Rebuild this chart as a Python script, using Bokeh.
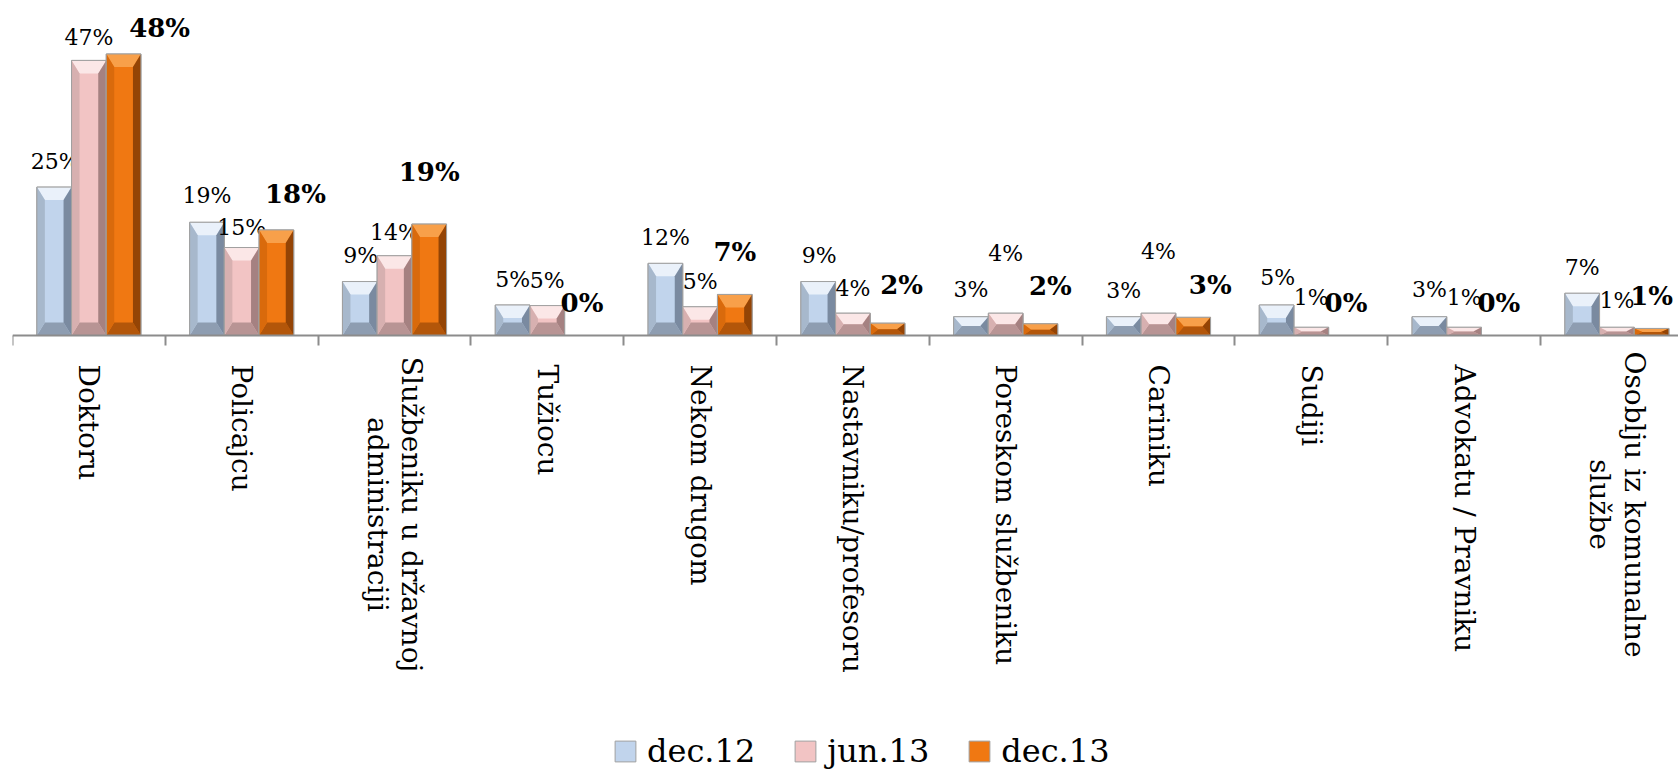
import math
from bokeh.plotting import figure
from bokeh.models import (Range1d, LinearAxis, FixedTicker, ColumnDataSource,
                          Legend, LegendItem)
from bokeh.core.properties import value
from bokeh.embed import file_html
from bokeh.resources import INLINE

# ---------------- data ----------------
categories = ["Doktoru", "Policajcu", "Službeniku u državnoj\nadministraciji", "Tužiocu",
              "Nekom drugom", "Nastavniku/profesoru", "Poreskom službeniku", "Cariniku",
              "Sudiji", "Advokatu / Pravniku", "Osoblju iz komunalne\nslužbe"]
series_names = ["dec.12", "jun.13", "dec.13"]
dec12 = [25.3, 19.3, 9.2, 5.2, 12.3, 9.2, 3.2, 3.2, 5.2, 3.2, 7.2]
jun13 = [46.9, 15.0, 13.6, 5.1, 4.9, 3.8, 3.8, 3.8, 1.4, 1.4, 1.4]
dec13 = [48.0, 18.0, 19.0, 0.0, 7.0, 2.1, 2.0, 3.1, 0.0, 0.0, 1.2]

# ---------------- style / layout ----------------
FONT = "DejaVu Serif"
W, H = 1678, 770
BORDER_LEFT = 12
CAT_PX = 152.8          # pixels per category
AXIS_FROM_TOP = 335     # pixels from top of frame to the axis line
PX_PER_PCT = 5.865
X_END = (W - BORDER_LEFT) / CAT_PX
Y_TOP = AXIS_FROM_TOP / PX_PER_PCT
Y_BOT = -(H - AXIS_FROM_TOP) / PX_PER_PCT
BAR_W = 34.7 / CAT_PX
BEVEL_X = 8 / CAT_PX
BEVEL_Y = 13 / PX_PER_PCT

palettes = [
    dict(main="#c1d4ec", top="#eaf1fa", left="#a7b8cc", right="#7a8aa0", bottom="#8e9db1"),
    dict(main="#f2c4c4", top="#fbe7e7", left="#d7b0b0", right="#a58181", bottom="#b89494"),
    dict(main="#f07812", top="#f8a04a", left="#d96a0c", right="#944405", bottom="#b3560a"),
]
label_bold = [False, False, True]
label_size = ["22px", "22px", "26px"]
label_up = [26, 25, 33]
# manual nudges of the data labels (pixels): extra lift and horizontal shift
label_extra_up = [
    [0, 1, 0, 0, 0, 0, 1, 0, 2, 1, 0],
    [-2, -5, -2, 0, 0, 0, 35, 37, 5, 5, 2],
    [-7, 3, 19, 0, 9, 5, 5, -1, 0, 0, -1],
]
label_dx = [
    [1, 0, 1, 0, 0, 1, 0, 0, 1, 0, 0],
    [0, 0, 0, 0, 0, 0, 0, 0, 0, 0, 0],
    [36, 19, 0, 0, 0, 14, 10, 17, 0, 0, 0],
]
CAT_LABEL_GAP = 29
cat_half_len = [0, 0, 150, 0, 0, 0, 0, 0, 0, 0, 140]

p = figure(width=W, height=H, x_range=Range1d(0, X_END), y_range=Range1d(Y_BOT, Y_TOP),
           x_axis_type=None, y_axis_type=None, output_backend="svg", toolbar_location=None,
           min_border_left=BORDER_LEFT, min_border_right=0, min_border_top=0, min_border_bottom=0)
p.outline_line_color = None
p.background_fill_color = "white"
p.border_fill_color = "white"

all_series = [dec12, jun13, dec13]
main_renderers = []
for s, vals in enumerate(all_series):
    pal = palettes[s]
    centers = [i + 0.5 + (s - 1) * BAR_W for i in range(len(vals))]
    left = [c - BAR_W / 2 for c in centers]
    right = [c + BAR_W / 2 for c in centers]
    src = ColumnDataSource(dict(left=left, right=right, top=vals, bottom=[0] * len(vals)))
    r = p.quad(left="left", right="right", top="top", bottom="bottom", source=src,
               fill_color=pal["main"], line_color="#a0a0a0", line_width=1)
    main_renderers.append(r)

    xs, ys, cols = [], [], []
    for x0, x1, v in zip(left, right, vals):
        if v <= 0:
            continue
        by = min(BEVEL_Y, v / 2)
        bx = min(BEVEL_X, (x1 - x0) / 2)
        # top, bottom, left, right bevels
        xs += [[x0, x1, x1 - bx, x0 + bx], [x0, x1, x1 - bx, x0 + bx],
               [x0, x0, x0 + bx, x0 + bx], [x1, x1, x1 - bx, x1 - bx]]
        ys += [[v, v, v - by, v - by], [0, 0, by, by],
               [0, v, v - by, by], [0, v, v - by, by]]
        cols += [pal["top"], pal["bottom"], pal["left"], pal["right"]]
    p.patches(xs="xs", ys="ys", fill_color="c", line_color=None,
              source=ColumnDataSource(dict(xs=xs, ys=ys, c=cols)))
    p.quad(left="left", right="right", top="top", bottom="bottom", source=src,
           fill_alpha=0, line_color="#a0a0a0", line_width=1)

    lsrc = ColumnDataSource(dict(
        x=centers, y=vals,
        t=[f"{round(v):.0f}%" for v in vals],
        xo=label_dx[s],
        yo=[-(label_up[s] + e) for e in label_extra_up[s]],
    ))
    p.text(x="x", y="y", text="t", x_offset="xo", y_offset="yo", source=lsrc,
           text_align="center", text_baseline="middle", text_color="black",
           text_font=value(FONT), text_font_size=label_size[s],
           text_font_style="bold" if label_bold[s] else "normal")

# category axis: tick marks at category boundaries, no numeric labels
axis = LinearAxis(fixed_location=0,
                  ticker=FixedTicker(ticks=[], minor_ticks=list(range(len(categories) + 1))))
axis.axis_line_color = "#8c8c8c"
axis.axis_line_width = 2
axis.major_tick_line_color = None
axis.minor_tick_line_color = "#8c8c8c"
axis.minor_tick_line_width = 2
axis.minor_tick_in = 0
axis.minor_tick_out = 10
p.add_layout(axis, "below")

# category labels, rotated
single = [i for i, c in enumerate(categories) if "\n" not in c]
multi = [i for i, c in enumerate(categories) if "\n" in c]
for idx, align in ((single, "left"), (multi, "center")):
    src = ColumnDataSource(dict(
        x=[i + 0.5 for i in idx], y=[0] * len(idx),
        t=[categories[i] for i in idx],
        yo=[CAT_LABEL_GAP + cat_half_len[i] for i in idx],
    ))
    p.text(x="x", y="y", text="t", y_offset="yo", source=src, angle=-math.pi / 2,
           text_align=align, text_baseline="middle", text_color="black",
           text_font=value(FONT), text_font_size="28px", text_line_height=1.05)

legend = Legend(items=[LegendItem(label=n, renderers=[r]) for n, r in zip(series_names, main_renderers)],
                orientation="horizontal", location=(600, 0),
                glyph_width=26, glyph_height=26, label_standoff=9, spacing=37,
                padding=0, margin=0, border_line_color=None, background_fill_alpha=0,
                label_text_font=FONT, label_text_font_size="32px", label_text_color="black")
p.add_layout(legend)

open("out.html", "w").write(file_html(p, INLINE))
